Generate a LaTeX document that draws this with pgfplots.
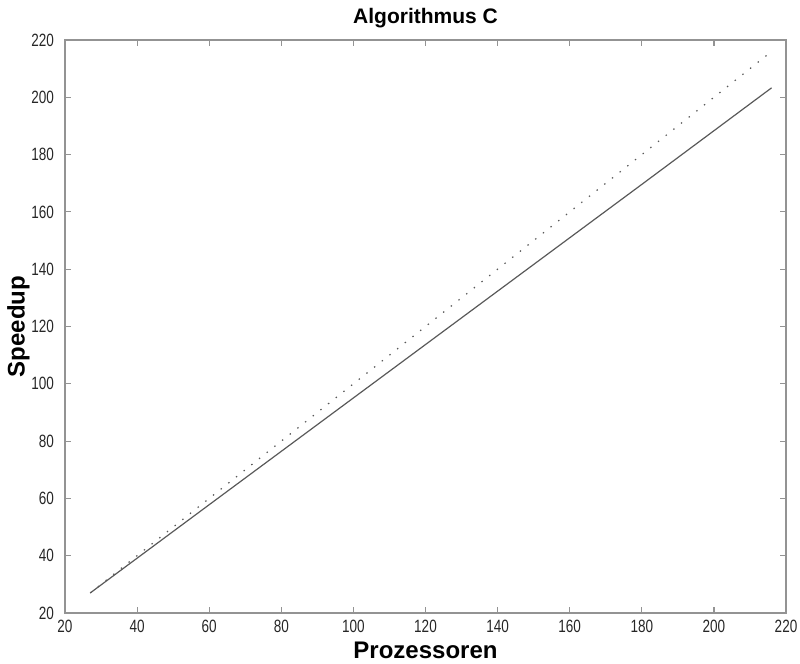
\documentclass[border=0pt]{standalone}
\usepackage{pgfplots}
\pgfplotsset{compat=1.18}
\usepackage{fontspec}
\setmainfont{Liberation Sans}
\newfontfamily\ticknarrow[FakeStretch=0.76]{Liberation Sans}

\begin{document}
\begin{tikzpicture}
\begin{axis}[
  scale only axis,
  width=360.5pt, height=286.5pt,
  xmin=20, xmax=220, ymin=20, ymax=220,
  xtick={20,40,...,220}, ytick={20,40,...,220},
  tick align=inside,
  major tick length=3pt,
  axis line style={gray!85, line width=0.6pt},
  every tick/.style={gray!85, line width=0.6pt},
  tick label style={font=\ticknarrow\fontsize{8.9}{10}\selectfont, text=black!85},
  yticklabel style={xshift=-2pt},
  /pgf/number format/assume math mode=true,
  title={\textbf{Algorithmus C}},
  title style={font=\fontsize{10.5}{12}\selectfont, yshift=-3.5pt},
  xlabel={\textbf{Prozessoren}},
  ylabel={\textbf{Speedup}},
  label style={font=\fontsize{12}{14}\selectfont},
  xlabel style={yshift=2pt},
  ylabel style={yshift=-6pt},
]
\coordinate (bl) at (rel axis cs:0,0);
\coordinate (tr) at (rel axis cs:1,1);
% ideales Speedup
\addplot[gray!70!black, line width=0.6pt, dash pattern=on 0.7pt off 4.2pt]
  coordinates {(27,27) (216,216)};
% gemessenes Speedup
\addplot[gray!70!black, line width=0.6pt]
  coordinates {(27,27) (60,57.8) (120,113.7) (180,169.6) (216,203.3)};
\end{axis}
\pgfresetboundingbox
\path ([shift={(-32.5pt,-25pt)}]bl) rectangle ([shift={(7pt,20pt)}]tr);
\end{tikzpicture}
\end{document}
